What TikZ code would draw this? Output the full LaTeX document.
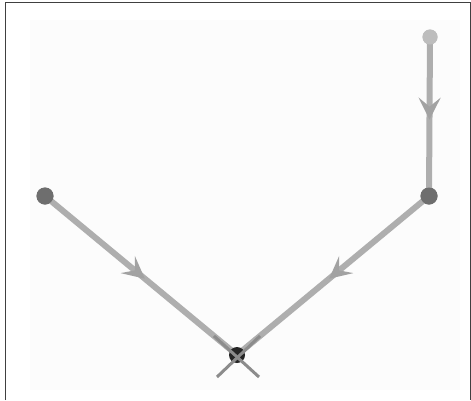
\documentclass[tikz,border=0pt]{standalone}
\usetikzlibrary{arrows.meta,decorations.markings,calc}
\definecolor{linegray}{HTML}{AEAEAE}
\definecolor{arrowgray}{HTML}{A2A2A2}
\definecolor{lightnode}{HTML}{BDBDBD}
\definecolor{darknode}{HTML}{6E6E6E}
\definecolor{crossgray}{HTML}{8C8C8C}
\tikzset{
  x=1pt,y=-1pt,
  pt/.style={circle,inner sep=0pt,minimum size=15pt},
  flow/.style={draw=linegray,line width=6pt,
    postaction={decorate},
    decoration={markings,mark=at position 0.52 with {\arrow[arrowgray]{Stealth[length=22pt,width=22pt,inset=9pt]}}}},
  cross/.style={draw=crossgray,line width=3pt}
}
\begin{document}
\begin{tikzpicture}
\useasboundingbox (0,0) rectangle (471,400);
\fill[white] (0,0) rectangle (471,400);
\fill[gray!2] (30,20) rectangle (460,390);
\draw[black!75,line width=1pt] (5.5,400) -- (5.5,2.5) -- (470.5,2.5) -- (470.5,400);
\coordinate (e1) at (259,377);
\coordinate (e2) at (217,377);
\node[pt,fill=lightnode] (t) at (430,37) {};
\node[pt,fill=darknode,minimum size=17pt] (r) at (429,196) {};
\node[pt,fill=darknode,minimum size=17pt] (l) at (45,196) {};
\node[pt,minimum size=16pt] (b) at (237,355) {};
\draw[flow] (t.center) -- (r.center);
\draw[flow] (l.center) -- (b.center);
\draw[flow] (r.center) -- (b.center);
\node[pt,fill=lightnode] at (t) {};
\node[pt,fill=darknode,minimum size=17pt] at (r) {};
\node[pt,fill=darknode,minimum size=17pt] at (l) {};
\fill[black!85] (b) circle (8pt);
\draw[cross] ($(l.center)!0.88!(b.center)$) -- (e1);
\draw[cross] ($(r.center)!0.88!(b.center)$) -- (e2);
\end{tikzpicture}
\end{document}
